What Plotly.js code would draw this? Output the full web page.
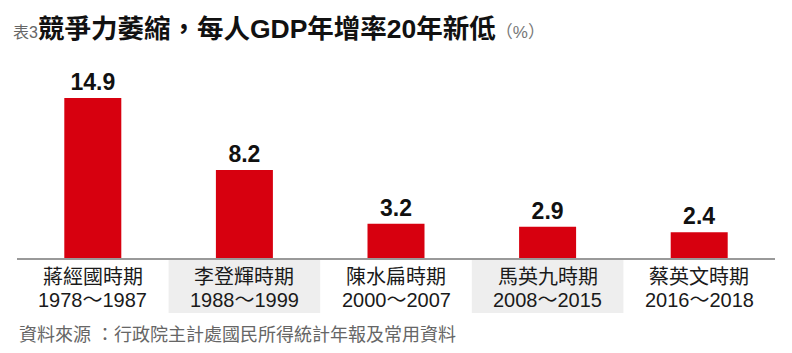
<!DOCTYPE html>
<html>
<head>
<meta charset="utf-8">
<script src="https://cdn.plot.ly/plotly-3.0.1.min.js"></script>
<style>html,body{margin:0;padding:0;background:#fff;}#chart{width:792px;height:353px;}</style>
</head>
<body>
<div id="chart"></div>
<script>
const leaders = ['蔣經國時期', '李登輝時期', '陳水扁時期', '馬英九時期', '蔡英文時期'];
const periods = ['1978～1987', '1988～1999', '2000～2007', '2008～2015', '2016～2018'];
const growth = [14.9, 8.2, 3.2, 2.9, 2.4];
const valueLabels = ['14.9', '8.2', '3.2', '2.9', '2.4'];
const shadedIdx = [1, 3];

const FONT = 'Liberation Sans, Arial, "Noto Sans CJK TC", sans-serif';
const plotH = 353 - 60 - 95;
const py = px => (258 - px) / plotH;

const annotations = [];
leaders.forEach((n, i) => {
  annotations.push({x: i, xref: 'x', y: py(277), yref: 'paper', text: n, showarrow: false,
    xanchor: 'center', yanchor: 'middle', font: {family: FONT, size: 20, color: '#1a1a1a'}});
  annotations.push({x: i, xref: 'x', y: py(300), yref: 'paper', text: periods[i], showarrow: false,
    xanchor: 'center', yanchor: 'middle', font: {family: FONT, size: 20, color: '#1a1a1a'}});
});
annotations.push({
  x: (11 - 17) / 758, xref: 'paper', y: py(29), yref: 'paper', xanchor: 'left', yanchor: 'middle', showarrow: false,
  text: '<span style="font-size:16px;color:#666">表3</span><b>競爭力萎縮，每人GDP年增率20年新低</b><span style="font-size:17px;color:#777">（%）</span>',
  font: {family: FONT, size: 26.5, color: '#111'}
});
annotations.push({
  x: 0, xref: 'paper', y: py(335), yref: 'paper', xanchor: 'left', yanchor: 'middle', showarrow: false,
  text: '資料來源 ：行政院主計處國民所得統計年報及常用資料',
  font: {family: FONT, size: 18, color: '#666'}
});

const shapes = shadedIdx.map(i => ({
  type: 'rect', xref: 'x', yref: 'paper', x0: i - 0.5, x1: i + 0.5, y0: py(313), y1: py(260),
  fillcolor: '#eeeeee', line: {width: 0}, layer: 'below'
}));

const trace = {
  type: 'bar', x: [0, 1, 2, 3, 4], y: growth, text: valueLabels, textposition: 'outside',
  textfont: {family: FONT, size: 23, color: '#111', weight: 'bold'},
  marker: {color: '#d7000f'}, cliponaxis: false, hoverinfo: 'none'
};

const layout = {
  width: 792, height: 353,
  margin: {l: 17, r: 17, t: 60, b: 95},
  paper_bgcolor: '#fff', plot_bgcolor: '#fff',
  bargap: 0.624,
  showlegend: false,
  xaxis: {range: [-0.5, 4.5], showticklabels: false, ticks: '', showgrid: false, zeroline: false,
    showline: true, linecolor: '#999', linewidth: 2, fixedrange: true},
  yaxis: {range: [0, plotH / 10.74], visible: false, fixedrange: true},
  annotations: annotations,
  shapes: shapes,
  font: {family: FONT}
};

Plotly.newPlot('chart', [trace], layout, {displayModeBar: false, staticPlot: true});
</script>
</body>
</html>
